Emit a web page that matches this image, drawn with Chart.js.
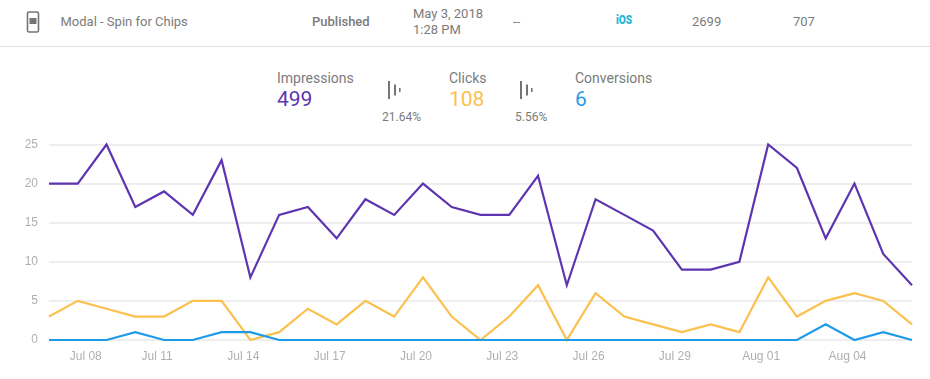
<!DOCTYPE html>
<html lang="en">
  <head>
    <meta charset="UTF-8" />
    <title>Modal - Spin for Chips</title>
    <style>
      html, body { margin: 0; padding: 0; background: #fff; }
      body { width: 930px; height: 379px; position: relative; overflow: hidden; font-family: Roboto, sans-serif; color: #7b7b7b; }
      canvas { position: absolute; left: 0; top: 0; }
      .t { position: absolute; white-space: nowrap; font-size: 13px; line-height: 16px; }
      .rule { position: absolute; left: 0; top: 46px; width: 930px; height: 1px; background: #e0e0e0; }
      .label { font-size: 14px; }
      .num { font-size: 21px; line-height: 24px; }
      .pct { font-size: 12px; }
      svg { position: absolute; }
    </style>
  </head>
  <body>
    <svg style="left:26px;top:11px" width="14" height="22" viewBox="0 0 14 22">
      <rect x="1.5" y="1" width="11" height="20" rx="1.5" fill="#fff" stroke="#757575" stroke-width="1.6" />
      <rect x="3.5" y="7" width="7" height="6" fill="#757575" />
    </svg>
    <div class="t" style="left:60.5px;top:14px">Modal - Spin for Chips</div>
    <div class="t" style="left:312px;top:14px;font-weight:500">Published</div>
    <div class="t" style="left:413px;top:6px">May 3, 2018</div>
    <div class="t" style="left:413px;top:22px">1:28 PM</div>
    <div class="t" style="left:513px;top:14px">--</div>
    <div class="t" style="left:615.5px;top:12px;font-weight:900;color:#26b6d4;font-size:12px;display:inline-block;transform:scaleX(0.85);transform-origin:left">iOS</div>
    <div class="t" style="left:692px;top:14px">2699</div>
    <div class="t" style="left:793px;top:14px">707</div>
    <div class="rule"></div>

    <div class="t label" style="left:277px;top:70px">Impressions</div>
    <div class="t num" style="left:277px;top:87px;color:#5e35b1">499</div>
    <svg style="left:387px;top:81px" width="14" height="19">
      <rect x="1" y="0" width="2" height="18" fill="#757575" />
      <rect x="7" y="3.5" width="2" height="11" fill="#757575" />
      <rect x="12" y="7" width="1.6" height="4" fill="#757575" />
    </svg>
    <div class="t pct" style="left:382px;top:109px">21.64%</div>

    <div class="t label" style="left:449px;top:70px">Clicks</div>
    <div class="t num" style="left:449px;top:87px;color:#fbc04e">108</div>
    <svg style="left:519px;top:81px" width="14" height="19">
      <rect x="1" y="0" width="2" height="18" fill="#757575" />
      <rect x="7" y="3.5" width="2" height="11" fill="#757575" />
      <rect x="12" y="7" width="1.6" height="4" fill="#757575" />
    </svg>
    <div class="t pct" style="left:515px;top:109px">5.56%</div>

    <div class="t label" style="left:575px;top:70px">Conversions</div>
    <div class="t num" style="left:575px;top:87px;color:#1e9be8">6</div>

    <canvas id="chart-1" width="930" height="379"></canvas>

    <script src="https://cdn.jsdelivr.net/npm/chart.js"></script>
    <script>
      // one point per day, Jul 07 to Aug 06
      const days = [
        0, 1, 2, 3, 4, 5, 6, 7, 8, 9, 10, 11, 12, 13, 14, 15,
        16, 17, 18, 19, 20, 21, 22, 23, 24, 25, 26, 27, 28, 29, 30,
      ];
      const impressions = [
        20, 20, 25, 17, 19, 16, 23, 8, 16, 17, 13, 18, 16, 20, 17, 16,
        16, 21, 7, 18, 16, 14, 9, 9, 10, 25, 22, 13, 20, 11, 7,
      ];
      const clicks = [
        3, 5, 4, 3, 3, 5, 5, 0, 1, 4, 2, 5, 3, 8, 3, 0,
        3, 7, 0, 6, 3, 2, 1, 2, 1, 8, 3, 5, 6, 5, 2,
      ];
      const conversions = [
        0, 0, 0, 1, 0, 0, 1, 1, 0, 0, 0, 0, 0, 0, 0, 0,
        0, 0, 0, 0, 0, 0, 0, 0, 0, 0, 0, 2, 0, 1, 0,
      ];
      // the first label sits further right than the three-day step
      const xTickDays = [1.52, 4, 7, 10, 13, 16, 19, 22, 25, 28];
      const xTickLabels = [
        "Jul 08", "Jul 11", "Jul 14", "Jul 17", "Jul 20",
        "Jul 23", "Jul 26", "Jul 29", "Aug 01", "Aug 04",
      ];
      const yTicks = [0, 5, 10, 15, 20, 25];

      const toPoints = (values) => values.map((v, i) => ({ x: days[i], y: v }));
      const tickFont = { family: "'Liberation Sans'", size: 12 };

      new Chart(document.getElementById("chart-1"), {
        type: "line",
        data: {
          datasets: [
            { label: "Impressions", data: toPoints(impressions), borderColor: "#5e35b1", order: 2 },
            { label: "Clicks", data: toPoints(clicks), borderColor: "#fbc04e", order: 1 },
            { label: "Conversions", data: toPoints(conversions), borderColor: "#1e9be8", order: 0 },
          ],
        },
        options: {
          responsive: false,
          animation: false,
          parsing: false,
          layout: { padding: { top: 144.5, right: 18, left: 0, bottom: 0 } },
          clip: false,
          elements: {
            line: { borderWidth: 2.2, tension: 0 },
            point: { radius: 0 },
          },
          plugins: { legend: { display: false }, tooltip: { enabled: false } },
          scales: {
            x: {
              type: "linear",
              min: days[0],
              max: days[days.length - 1],
              grid: { display: false },
              border: { display: false },
              afterBuildTicks: (axis) => {
                axis.ticks = xTickDays.map((d) => ({ value: d }));
              },
              afterFit: (axis) => {
                axis.height = 39;
              },
              ticks: {
                autoSkip: false,
                maxRotation: 0,
                labelOffset: -7,
                padding: 1,
                color: "#b0b0b0",
                font: tickFont,
                callback: (value, index) => xTickLabels[index],
              },
            },
            y: {
              min: 0,
              max: 25,
              grid: { color: "#eeeeee", lineWidth: 2, drawTicks: false },
              border: { display: false },
              afterBuildTicks: (axis) => {
                axis.ticks = yTicks.map((v) => ({ value: v }));
              },
              afterFit: (axis) => {
                axis.width = 49;
              },
              ticks: { padding: 11, color: "#b0b0b0", font: tickFont },
            },
          },
        },
      });
    </script>
  </body>
</html>
